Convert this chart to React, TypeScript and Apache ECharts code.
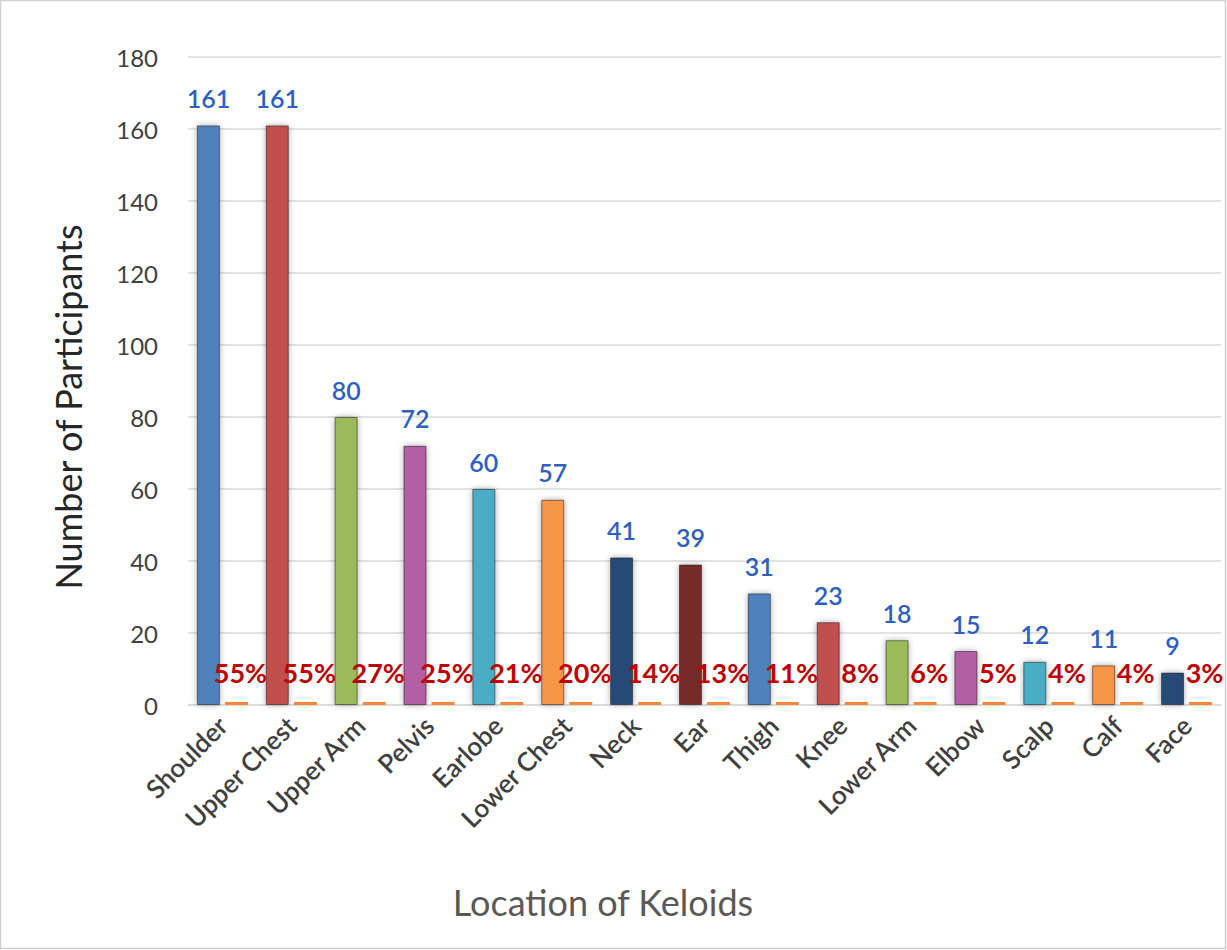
import React, { useEffect, useRef } from "react";
import * as echarts from "echarts";

const locations = [
  "Shoulder", "Upper Chest", "Upper Arm", "Pelvis", "Earlobe", "Lower Chest", "Neck",
  "Ear", "Thigh", "Knee", "Lower Arm", "Elbow", "Scalp", "Calf", "Face",
];
const participants = [161, 161, 80, 72, 60, 57, 41, 39, 31, 23, 18, 15, 12, 11, 9];
const percents = [55, 55, 27, 25, 21, 20, 14, 13, 11, 8, 6, 5, 4, 4, 3];
const barColors = [
  "#4F81BD", "#C0504D", "#9BBB59", "#B35EA3", "#4BACC6", "#F79646", "#264A78",
  "#772C2A", "#4F81BD", "#C0504D", "#9BBB59", "#B35EA3", "#4BACC6", "#F79646", "#264A78",
];
const yTicks = [0, 20, 40, 60, 80, 100, 120, 140, 160, 180];

const FONT = "Lato, 'Open Sans', sans-serif";

const App: React.FC = () => {
  const chartRef = useRef<HTMLDivElement>(null);

  useEffect(() => {
    document.body.style.margin = "0";
    const chart = echarts.init(chartRef.current!, undefined, { renderer: "svg" });

    const option: any = {
      animation: false,
      backgroundColor: "#ffffff",
      grid: { left: 188, right: 6, top: 57, bottom: 245 },
      graphic: [
        {
          type: "rect",
          shape: { x: 0.5, y: 0.5, width: 1225, height: 948 },
          style: { fill: "none", stroke: "#d0d0d0", lineWidth: 1.5 },
          silent: true,
        },
        {
          type: "text",
          x: 68,
          y: 407,
          rotation: Math.PI / 2,
          style: {
            text: "Number of Participants",
            font: `36px ${FONT}`,
            fill: "#262626",
            align: "center",
            verticalAlign: "middle",
          },
        },
        {
          type: "text",
          x: 603,
          y: 902,
          style: {
            text: "Location of Keloids",
            font: `36px ${FONT}`,
            fill: "#595959",
            align: "center",
            verticalAlign: "middle",
          },
        },
      ],
      xAxis: {
        type: "category",
        data: locations,
        axisLine: { lineStyle: { color: "#d9d9d9", width: 1.5 } },
        axisTick: { show: false },
        axisLabel: {
          rotate: 45,
          interval: 0,
          margin: 16,
          color: "#404040",
          fontSize: 26,
          fontWeight: 600,
          fontFamily: FONT,
        },
      },
      yAxis: {
        type: "value",
        min: 0,
        max: yTicks[yTicks.length - 1],
        interval: 20,
        axisLine: { show: false },
        axisTick: { show: false },
        splitLine: { lineStyle: { color: "#d9d9d9", width: 1.5 } },
        axisLabel: {
          margin: 30,
          color: "#404040",
          fontSize: 24,
          fontFamily: FONT,
        },
      },
      series: [
        {
          name: "Participants",
          type: "bar",
          barWidth: 23,
          barGap: "22%",
          data: participants.map((v, i) => ({
            value: v,
            itemStyle: {
              color: barColors[i],
              borderColor: "rgba(0,0,0,0.45)",
              borderWidth: 1,
              shadowColor: "rgba(0,0,0,0.35)",
              shadowBlur: 6,
            },
          })),
          label: {
            show: true,
            position: "top",
            distance: 15,
            color: "#2F5FC4",
            fontSize: 25,
            fontWeight: 600,
            fontFamily: FONT,
          },
        },
        {
          name: "Percent",
          type: "bar",
          barWidth: 23,
          barMinHeight: 3,
          data: percents.map((p) => p / 100),
          itemStyle: { color: "#F5873A" },
          label: {
            show: true,
            position: "top",
            distance: 16,
            offset: [4, 0],
            color: "#C00000",
            fontSize: 27,
            fontWeight: "bold",
            fontFamily: FONT,
            formatter: (p: any) => `${percents[p.dataIndex]}%`,
          },
        },
      ],
    };

    chart.setOption(option);
    return () => {
      chart.dispose();
    };
  }, []);

  return <div ref={chartRef} style={{ width: 1227, height: 950 }}></div>;
};

export default App;
